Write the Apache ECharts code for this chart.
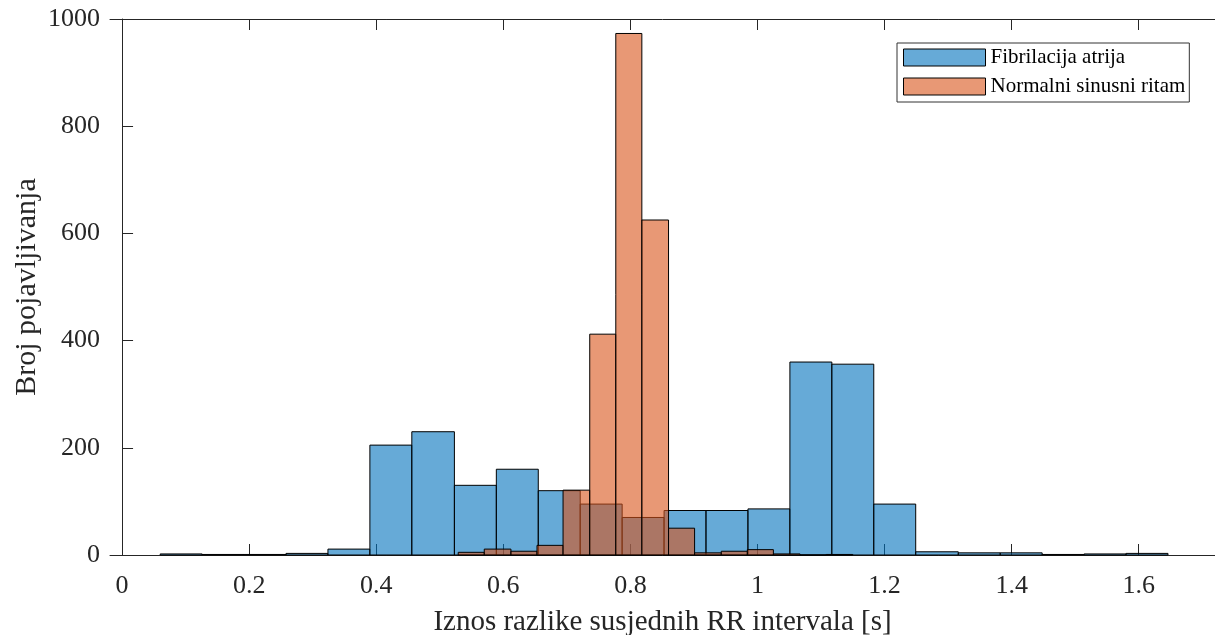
<!DOCTYPE html>
<html>
<head>
<meta charset="utf-8">
<script src="https://cdn.jsdelivr.net/npm/echarts@6/dist/echarts.min.js"></script>
<style>html,body{margin:0;padding:0;background:#fff;}#c{width:1215px;height:635px;}</style>
</head>
<body>
<div id="c"></div>
<script>
// Fibrilacija atrija (AF) histogram
const afEdges = [0.060, 0.126, 0.192, 0.258, 0.324, 0.390, 0.456, 0.523, 0.589, 0.655, 0.721, 0.787, 0.853, 0.919, 0.985, 1.051, 1.117, 1.183, 1.249, 1.316, 1.382, 1.448, 1.514, 1.580, 1.646];
const afCounts = [2, 1, 1, 3, 11, 205, 230, 130, 160, 120, 95, 70, 83, 83, 86, 360, 356, 95, 6, 4, 4, 1, 2, 3];
// Normalni sinusni ritam (NSR) histogram
const nsrEdges = [0.529, 0.570, 0.612, 0.653, 0.694, 0.736, 0.777, 0.818, 0.860, 0.901, 0.943, 0.984, 1.025, 1.067, 1.108, 1.150];
const nsrCounts = [5, 11, 7, 18, 121, 412, 973, 625, 50, 4, 7, 10, 2, 0, 1];
const xTicks = [0, 0.2, 0.4, 0.6, 0.8, 1, 1.2, 1.4, 1.6];
const yTicks = [0, 200, 400, 600, 800, 1000];
const seriesNames = ['Fibrilacija atrija', 'Normalni sinusni ritam'];

const afFill = 'rgba(0,114,189,0.6)';
const nsrFill = 'rgba(217,83,25,0.6)';
const axisCol = '#262626';
const font = 'Liberation Serif';

function toBins(edges, counts) {
  const out = [];
  for (let i = 0; i < counts.length; i++) out.push([edges[i], edges[i + 1], counts[i]]);
  return out;
}
function makeRender(fill) {
  return function (params, api) {
    const p0 = api.coord([api.value(0), api.value(2)]);
    const p1 = api.coord([api.value(1), 0]);
    return {
      type: 'rect',
      shape: { x: p0[0], y: p0[1], width: p1[0] - p0[0], height: p1[1] - p0[1] },
      style: { fill: fill, stroke: '#000', lineWidth: 1 }
    };
  };
}
const xMin = -0.019, xMax = 1.72;
const chart = echarts.init(document.getElementById('c'), null, { renderer: 'canvas' });
const baseX = {
  type: 'value', min: xMin, max: xMax,
  axisLine: { show: true, onZero: false, lineStyle: { color: axisCol, width: 1 } },
  axisTick: { show: true, inside: true, length: 11, customValues: xTicks, lineStyle: { color: axisCol } },
  splitLine: { show: false }
};
chart.setOption({
  animation: false,
  backgroundColor: '#fff',
  grid: { left: 110, right: 0, top: 19, bottom: 80, containLabel: false, outerBoundsMode: 'none' },
  legend: {
    left: 897, top: 43, orient: 'vertical',
    padding: [4, 4, 5, 6], itemGap: 8, itemWidth: 82, itemHeight: 17,
    borderColor: '#333', borderWidth: 1, backgroundColor: '#fff',
    textStyle: { fontFamily: font, fontSize: 21, color: '#000', padding: [0, 0, 0, 0] },
    data: [
      { name: seriesNames[0], icon: 'rect', itemStyle: { color: afFill, borderColor: '#000', borderWidth: 1 } },
      { name: seriesNames[1], icon: 'rect', itemStyle: { color: nsrFill, borderColor: '#000', borderWidth: 1 } }
    ]
  },
  xAxis: [
    Object.assign({}, baseX, {
      position: 'bottom',
      axisLabel: { show: true, customValues: xTicks, margin: 18, fontFamily: font, fontSize: 26, color: axisCol,
        formatter: v => String(Math.round(v * 10) / 10) },
      name: 'Iznos razlike susjednih RR intervala [s]', nameLocation: 'middle', nameGap: 53, nameMoveOverlap: false,
      nameTextStyle: { fontFamily: font, fontSize: 29, color: axisCol }
    }),
    Object.assign({}, baseX, { position: 'top', axisLabel: { show: false } })
  ],
  yAxis: [
    {
      type: 'value', min: 0, max: 1000, interval: 200, position: 'left',
      axisLine: { show: true, lineStyle: { color: axisCol } },
      axisTick: { show: true, inside: true, length: 11, lineStyle: { color: axisCol } },
      axisLabel: { margin: 10, fontFamily: font, fontSize: 26, color: axisCol, formatter: v => String(v) },
      splitLine: { show: false },
      name: 'Broj pojavljivanja', nameLocation: 'middle', nameGap: 68, nameRotate: 90, nameMoveOverlap: false,
      nameTextStyle: { fontFamily: font, fontSize: 30, color: axisCol }
    },
    {
      type: 'value', min: 0, max: 1000, interval: 200, position: 'right',
      axisLine: { show: false },
      axisTick: { show: false },
      axisLabel: { show: false }, splitLine: { show: false }
    }
  ],
  series: [
    { name: seriesNames[0], type: 'custom', renderItem: makeRender(afFill), encode: { x: [0, 1], y: 2 },
      itemStyle: { color: afFill }, data: toBins(afEdges, afCounts), z: 2 },
    { name: seriesNames[1], type: 'custom', renderItem: makeRender(nsrFill), encode: { x: [0, 1], y: 2 },
      itemStyle: { color: nsrFill }, data: toBins(nsrEdges, nsrCounts), z: 3 }
  ]
});
</script>
</body>
</html>
